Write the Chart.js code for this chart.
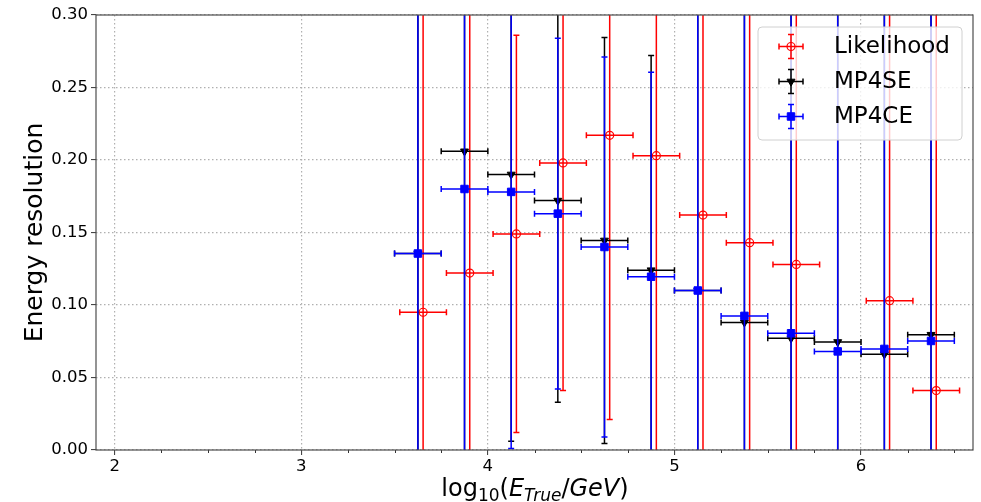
<!DOCTYPE html>
<html>
<head>
<meta charset="utf-8">
<script src="https://cdn.jsdelivr.net/npm/chart.js@4.4.0/dist/chart.umd.min.js"></script>
<style>
  html, body { margin: 0; padding: 0; background: #fff; }
  #wrap { width: 981px; height: 502px; }
</style>
</head>
<body>
<div id="wrap"><canvas id="resChart" width="981" height="502"></canvas></div>
<script>
// energy bins, log10(E_true/GeV)
const binCenters = [3.625, 3.875, 4.125, 4.375, 4.625, 4.875, 5.125, 5.375, 5.625, 5.875, 6.125, 6.375];
const binHalfWidth = 0.125;

// Likelihood (slightly shifted in x, no point in the 5.875 bin)
const likeX = [3.653, 3.903, 4.153, 4.403, 4.653, 4.903, 5.153, 5.403, 5.653, 6.153, 6.403];
const likeY = [0.095, 0.122, 0.149, 0.198, 0.217, 0.203, 0.162, 0.143, 0.128, 0.103, 0.041];
const likeErr = [0.4, 0.4, 0.137, 0.157, 0.196, 0.4, 0.4, 0.4, 0.4, 0.4, 0.4];

// MP4SE
const seY = [0.1355, 0.206, 0.190, 0.172, 0.1445, 0.124, 0.110, 0.088, 0.077, 0.0745, 0.066, 0.0795];
const seErr = [0.4, 0.4, 0.184, 0.139, 0.140, 0.148, 0.4, 0.4, 0.4, 0.4, 0.4, 0.4];

// MP4CE
const ceY = [0.1355, 0.180, 0.178, 0.163, 0.140, 0.1195, 0.110, 0.0925, 0.0805, 0.068, 0.0697, 0.0752];
const ceErr = [0.4, 0.4, 0.177, 0.121, 0.131, 0.141, 0.4, 0.4, 0.4, 0.4, 0.4, 0.4];

const xTickValues = [2, 3, 4, 5, 6];
const yTickValues = [0, 0.05, 0.1, 0.15, 0.2, 0.25, 0.3];

const FONT = "DejaVu Sans";

function points(xs, ys, errs) {
  return xs.map((x, i) => ({ x: x, y: ys[i], xErr: binHalfWidth, yErr: errs[i] }));
}

function drawMarker(ctx, ds, x, y) {
  ctx.save();
  ctx.lineWidth = ds.pointBorderWidth;
  ctx.strokeStyle = ds.borderColor;
  ctx.fillStyle = ds.pointBackgroundColor;
  const r = ds.pointRadius;
  ctx.beginPath();
  if (ds.pointStyle === "circle") {
    ctx.arc(x, y, r, 0, Math.PI * 2);
  } else if (ds.pointStyle === "triangle") {
    for (let k = 0; k < 3; k++) {
      const a = Math.PI + k * 2 * Math.PI / 3;
      const px = x + Math.sin(a) * r, py = y - Math.cos(a) * r;
      if (k === 0) ctx.moveTo(px, py); else ctx.lineTo(px, py);
    }
    ctx.closePath();
  } else {
    const s = Math.SQRT1_2 * r;
    ctx.rect(x - s, y - s, 2 * s, 2 * s);
  }
  ctx.fill();
  ctx.stroke();
  ctx.restore();
}

function errorBar(ctx, x, y, x0, x1, y0, y1, cap) {
  ctx.beginPath();
  ctx.moveTo(x, y0); ctx.lineTo(x, y1);
  ctx.moveTo(x0, y); ctx.lineTo(x1, y);
  ctx.moveTo(x - cap, y0); ctx.lineTo(x + cap, y0);
  ctx.moveTo(x - cap, y1); ctx.lineTo(x + cap, y1);
  ctx.moveTo(x0, y - cap); ctx.lineTo(x0, y + cap);
  ctx.moveTo(x1, y - cap); ctx.lineTo(x1, y + cap);
  ctx.stroke();
}

const errorBarPlugin = {
  id: "errorBars",
  beforeDatasetDraw(chart, args) {
    const ds = chart.data.datasets[args.index];
    const { ctx, chartArea: a, scales } = chart;
    ctx.save();
    ctx.beginPath();
    ctx.rect(a.left, a.top, a.right - a.left, a.bottom - a.top);
    ctx.clip();
    ctx.strokeStyle = ds.borderColor;
    ctx.lineWidth = 1.5;
    ds.data.forEach((p) => {
      errorBar(ctx,
        scales.x.getPixelForValue(p.x), scales.y.getPixelForValue(p.y),
        scales.x.getPixelForValue(p.x - p.xErr), scales.x.getPixelForValue(p.x + p.xErr),
        scales.y.getPixelForValue(p.y - p.yErr), scales.y.getPixelForValue(p.y + p.yErr), 3);
    });
    ctx.restore();
  }
};

const framePlugin = {
  id: "frame",
  afterDatasetsDraw(chart) {
    const { ctx, chartArea: a, scales } = chart;
    ctx.save();
    // minor ticks on x
    ctx.strokeStyle = "#333";
    ctx.lineWidth = 1;
    for (let v = 2.25; v < 6.6; v += 0.25) {
      if (Math.abs(v - Math.round(v)) < 1e-6) continue;
      const px = Math.round(scales.x.getPixelForValue(v)) + 0.5;
      ctx.beginPath();
      ctx.moveTo(px, a.bottom);
      ctx.lineTo(px, a.bottom + 3);
      ctx.stroke();
    }
    ctx.strokeStyle = "#4d4d4d";
    ctx.lineWidth = 1.2;
    ctx.strokeRect(a.left, a.top, a.right - a.left, a.bottom - a.top);

    // legend
    const lx = 758, ly = 27, lw = 204, lh = 113;
    ctx.beginPath();
    ctx.roundRect(lx, ly, lw, lh, 4);
    ctx.fillStyle = "rgba(255,255,255,0.8)";
    ctx.fill();
    ctx.strokeStyle = "#d0d0d0";
    ctx.lineWidth = 1;
    ctx.stroke();
    const rows = [46.5, 81.5, 116.5];
    ctx.font = "23px '" + FONT + "'";
    ctx.textBaseline = "middle";
    ctx.textAlign = "left";
    chart.data.datasets.forEach((ds, i) => {
      const cx = 791, cy = rows[i];
      ctx.strokeStyle = ds.borderColor;
      ctx.lineWidth = 1.5;
      errorBar(ctx, cx, cy, cx - 12, cx + 12, cy + 12, cy - 12, 3);
      drawMarker(ctx, ds, cx, cy);
      ctx.fillStyle = "#000";
      ctx.fillText(ds.label, 834, cy + 1);
    });

    // axis titles
    ctx.fillStyle = "#000";
    ctx.save();
    ctx.translate(42, (a.top + a.bottom) / 2);
    ctx.rotate(-Math.PI / 2);
    ctx.font = "25px '" + FONT + "'";
    ctx.textAlign = "center";
    ctx.textBaseline = "alphabetic";
    ctx.fillText("Energy resolution", 0, 0);
    ctx.restore();

    // log10(E_True/GeV) as mathtext-like pieces
    const big = 24, small = 17;
    const parts = [
      ["log", big, false, 0], ["10", small, false, 5], ["(", big, false, 0],
      ["E", big, true, 0], ["True", small, true, 5], ["/", big, false, 0],
      ["GeV", big, true, 0], [")", big, false, 0]
    ];
    ctx.textAlign = "left";
    ctx.textBaseline = "alphabetic";
    let total = 0;
    parts.forEach((p) => {
      ctx.font = (p[2] ? "italic " : "") + p[1] + "px '" + FONT + "'";
      p.push(ctx.measureText(p[0]).width);
      total += p[4];
    });
    let tx = 535 - total / 2;
    parts.forEach((p) => {
      ctx.font = (p[2] ? "italic " : "") + p[1] + "px '" + FONT + "'";
      ctx.fillText(p[0], tx, 496 + p[3]);
      tx += p[4];
    });
    ctx.restore();
  }
};

new Chart(document.getElementById("resChart"), {
  type: "scatter",
  data: {
    datasets: [
      {
        label: "Likelihood",
        data: points(likeX, likeY, likeErr),
        borderColor: "#ff0000",
        pointBackgroundColor: "rgba(0,0,0,0)",
        pointStyle: "circle",
        pointRadius: 4,
        pointBorderWidth: 1.2,
        order: 3,
      },
      {
        label: "MP4SE",
        data: points(binCenters, seY, seErr),
        borderColor: "#000000",
        pointBackgroundColor: "#000000",
        pointStyle: "triangle",
        pointRotation: 180,
        pointRadius: 4.6,
        pointBorderWidth: 1,
        order: 2,
      },
      {
        label: "MP4CE",
        data: points(binCenters, ceY, ceErr),
        borderColor: "#0000ff",
        pointBackgroundColor: "#0000ff",
        pointStyle: "rect",
        pointRadius: 5.3,
        pointBorderWidth: 1,
        order: 1,
      },
    ],
  },
  options: {
    responsive: false,
    animation: false,
    devicePixelRatio: 1,
    layout: { padding: { top: 15, right: 8, left: 0, bottom: 0 } },
    plugins: { legend: { display: false }, tooltip: { enabled: false } },
    scales: {
      x: {
        type: "linear",
        min: 1.9,
        max: 6.6,
        afterBuildTicks: (s) => { s.ticks = xTickValues.map((v) => ({ value: v })); },
        afterFit: (s) => { s.height = 52; },
        grid: { color: "#b0b0b0", lineWidth: 1.2, tickColor: "#333", tickLength: 5, tickWidth: 1 },
        border: { display: false, dash: [1.5, 2.5] },
        ticks: { color: "#000", font: { family: FONT, size: 16.5 }, padding: 2, maxRotation: 0, callback: (v) => String(v) },
      },
      y: {
        type: "linear",
        min: 0,
        max: 0.3,
        afterBuildTicks: (s) => { s.ticks = yTickValues.map((v) => ({ value: v })); },
        afterFit: (s) => { s.width = 96; },
        grid: { color: "#b0b0b0", lineWidth: 1.2, tickColor: "#333", tickLength: 5, tickWidth: 1 },
        border: { display: false, dash: [1.5, 2.5] },
        ticks: { color: "#000", font: { family: FONT, size: 16.5 }, padding: 3, callback: (v) => v.toFixed(2) },
      },
    },
  },
  plugins: [errorBarPlugin, framePlugin],
});
</script>
</body>
</html>
